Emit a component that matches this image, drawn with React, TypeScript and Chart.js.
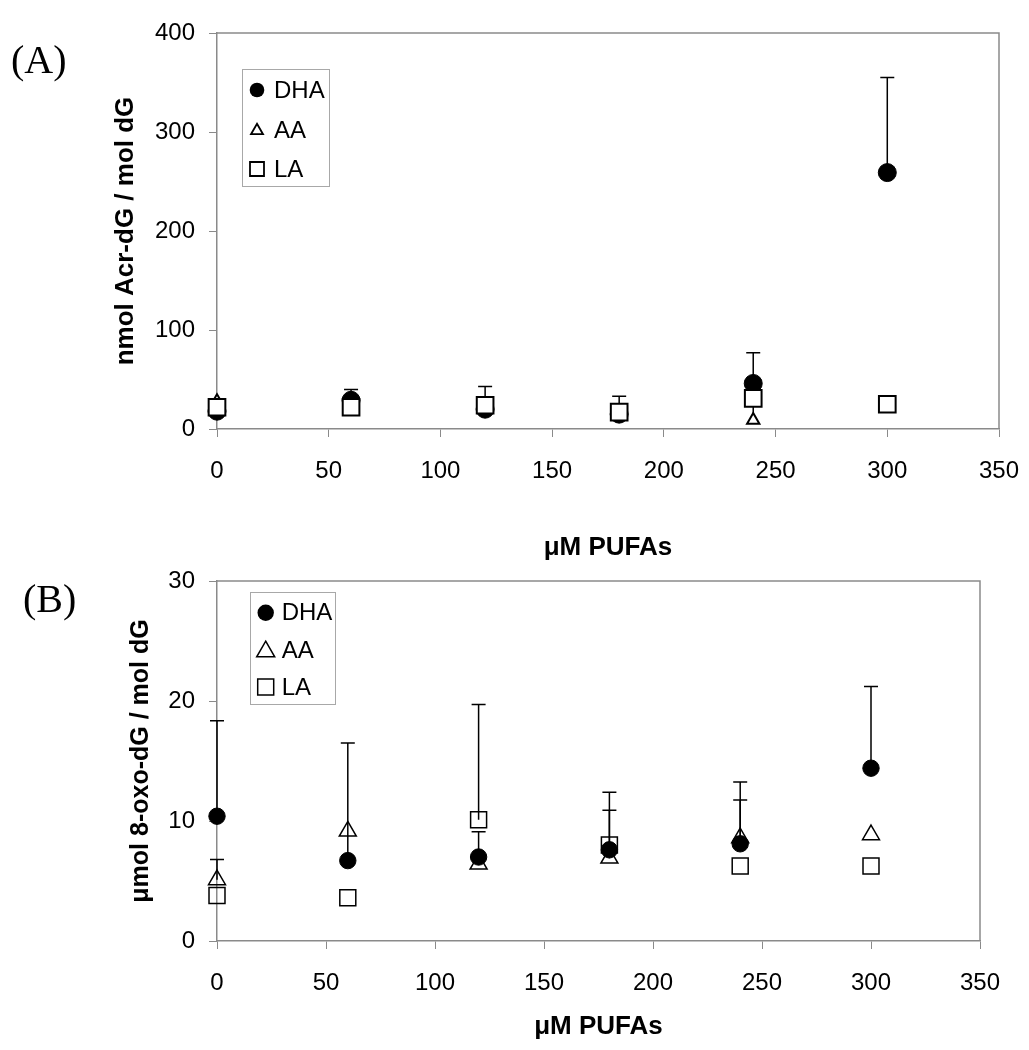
import React, { useEffect, useRef } from "react";
import { Chart, registerables } from "chart.js";

Chart.register(...registerables);

// ---------- data ----------
const doses = [0, 60, 120, 180, 240, 300];
const xTickValues = [0, 50, 100, 150, 200, 250, 300, 350];
const seriesNames = ["DHA", "AA", "LA"];

// Panel A: nmol Acr-dG / mol dG
const acrDHA = [18, 29, 20, 15, 46, 259];
const acrDHAErr = [0, 11, 0, 0, 31, 96];
const acrAA = [28, 22, 22, 16, 9, 24];
const acrAAErr = [0, 0, 0, 0, 21, 0];
const acrLA = [22, 22, 24, 17, 31, 25];
const acrLAErr = [0, 0, 19, 16, 0, 0];
const acrYTicks = [0, 100, 200, 300, 400];

// Panel B: umol 8-oxo-dG / mol dG
const oxoDHA = [10.4, 6.7, 7.0, 7.6, 8.1, 14.4];
const oxoDHAErr = [7.95, 9.8, 2.1, 4.8, 5.15, 6.8];
const oxoAA = [5.1, 9.15, 6.4, 6.9, 8.6, 8.85];
const oxoAAErr = [1.7, 0, 0, 4.0, 3.15, 0];
const oxoLA = [3.8, 3.6, 10.1, 8.0, 6.25, 6.25];
const oxoLAErr = [0, 0, 9.6, 0, 0, 0];
const oxoYTicks = [0, 10, 20, 30];

const SANS = "'Liberation Sans', Arial, Helvetica, sans-serif";
const AXIS_GRAY = "#8a8a8a";

// ---------- plugins ----------
const errorBarPlugin = {
  id: "errorBars",
  beforeDatasetsDraw(chart: any, _args: any, opts: any) {
    const { ctx } = chart;
    const xs = chart.scales.x;
    const ys = chart.scales.y;
    ctx.save();
    ctx.strokeStyle = "#000";
    ctx.lineWidth = opts.width || 1.5;
    chart.data.datasets.forEach((ds: any) => {
      const errs: number[] | undefined = ds.errorPlus;
      if (!errs) return;
      ds.data.forEach((pt: any, j: number) => {
        const e = errs[j];
        if (!e) return;
        const px = xs.getPixelForValue(pt.x);
        const p0 = ys.getPixelForValue(pt.y);
        const p1 = ys.getPixelForValue(pt.y + e);
        ctx.beginPath();
        ctx.moveTo(px, p0);
        ctx.lineTo(px, p1);
        ctx.moveTo(px - opts.cap, p1);
        ctx.lineTo(px + opts.cap, p1);
        ctx.stroke();
      });
    });
    ctx.restore();
  },
};

const framePlugin = {
  id: "frame",
  beforeDatasetsDraw(chart: any) {
    const { ctx, chartArea } = chart;
    ctx.save();
    ctx.strokeStyle = AXIS_GRAY;
    ctx.lineWidth = 1.5;
    ctx.beginPath();
    ctx.moveTo(chartArea.left, chartArea.top);
    ctx.lineTo(chartArea.right, chartArea.top);
    ctx.lineTo(chartArea.right, chartArea.bottom);
    ctx.stroke();
    ctx.restore();
  },
};

function drawSymbol(ctx: CanvasRenderingContext2D, kind: string, x: number, y: number, size: number, lw: number) {
  ctx.beginPath();
  if (kind === "circle") {
    ctx.arc(x, y, size, 0, Math.PI * 2);
    ctx.fillStyle = "#000";
    ctx.fill();
    return;
  }
  if (kind === "triangle") {
    const h = size * 0.866;
    ctx.moveTo(x, y - h / 2 - 1);
    ctx.lineTo(x + size / 2, y + h / 2 - 1);
    ctx.lineTo(x - size / 2, y + h / 2 - 1);
    ctx.closePath();
  } else {
    ctx.rect(x - size / 2, y - size / 2, size, size);
  }
  ctx.lineWidth = lw;
  ctx.strokeStyle = "#000";
  ctx.stroke();
}

const insideLegendPlugin = {
  id: "insideLegend",
  afterDraw(chart: any, _args: any, o: any) {
    const { ctx, chartArea } = chart;
    const bx = chartArea.left + o.dx;
    const by = chartArea.top + o.dy;
    ctx.save();
    ctx.strokeStyle = "#a8a8a8";
    ctx.lineWidth = 1;
    ctx.strokeRect(Math.round(bx) + 0.5, Math.round(by) + 0.5, o.w, o.h);
    ctx.font = `${o.fontSize}px ${SANS}`;
    ctx.fillStyle = "#000";
    ctx.textBaseline = "middle";
    ctx.textAlign = "left";
    const kinds = ["circle", "triangle", "square"];
    seriesNames.forEach((name, i) => {
      const cy = chartArea.top + o.rows[i];
      drawSymbol(ctx, kinds[i], chartArea.left + o.symX, cy, o.sizes[i], o.lw);
      ctx.fillStyle = "#000";
      ctx.fillText(name, chartArea.left + o.textX, cy + 1);
    });
    ctx.restore();
  },
};

// ---------- config ----------
type Panel = {
  canvasH: number;
  area: { left: number; top: number; right: number; bottom: number };
  yMax: number;
  yTicks: number[];
  yTitle: string;
  yTitleSize: number;
  yTitleX: number;
  xTitleY: number;
  dha: number[]; dhaErr: number[];
  aa: number[]; aaErr: number[];
  la: number[]; laErr: number[];
  radii: { circle: number; tri: number; rect: number };
  openFill: string;
  openBorder: number;
  legend: any;
};

function pts(vals: number[]) {
  return doses.map((d, i) => ({ x: d, y: vals[i] }));
}

function buildConfig(p: Panel): any {
  const W = 1029;
  const X_TITLE = 26;
  const xTitleFont = { family: SANS, size: X_TITLE, weight: "bold" as const, lineHeight: 1.2 };
  const yTitleFont = { family: SANS, size: p.yTitleSize, weight: "bold" as const, lineHeight: 1.2 };
  const xHalf = (X_TITLE * 1.2) / 2;
  const yHalf = (p.yTitleSize * 1.2) / 2;
  return {
    type: "scatter",
    data: {
      datasets: [
        {
          label: "DHA",
          data: pts(p.dha),
          errorPlus: p.dhaErr,
          pointStyle: "circle",
          pointRadius: p.radii.circle,
          pointBackgroundColor: "#000",
          pointBorderColor: "#000",
          pointBorderWidth: 1,
          clip: false,
          order: 2,
        },
        {
          label: "AA",
          data: pts(p.aa),
          errorPlus: p.aaErr,
          pointStyle: "triangle",
          pointRadius: p.radii.tri,
          pointBackgroundColor: p.openFill,
          pointBorderColor: "#000",
          pointBorderWidth: p.openBorder,
          clip: false,
          order: 1,
        },
        {
          label: "LA",
          data: pts(p.la),
          errorPlus: p.laErr,
          pointStyle: "rect",
          pointRadius: p.radii.rect,
          pointBackgroundColor: p.openFill,
          pointBorderColor: "#000",
          pointBorderWidth: p.openBorder,
          clip: false,
          order: 0,
        },
      ],
    },
    options: {
      animation: false,
      responsive: false,
      devicePixelRatio: 1,
      events: [],
      layout: {
        padding: { left: 0, top: p.area.top, right: W - p.area.right, bottom: 0 },
      },
      plugins: {
        legend: { display: false },
        tooltip: { enabled: false },
        title: { display: false },
        errorBars: { cap: 7, width: 1.5 },
        insideLegend: p.legend,
      },
      scales: {
        x: {
          type: "linear",
          min: 0,
          max: 350,
          afterBuildTicks: (s: any) => {
            s.ticks = xTickValues.map((v) => ({ value: v }));
          },
          afterFit: (s: any) => {
            s.height = p.canvasH - p.area.bottom;
            s.paddingLeft = 0;
            s.paddingRight = 0;
          },
          ticks: {
            font: { family: SANS, size: 24 },
            color: "#000",
            padding: 20,
            maxRotation: 0,
            autoSkip: false,
          },
          grid: { drawOnChartArea: false, drawTicks: true, tickLength: 8, color: AXIS_GRAY, lineWidth: 1 },
          border: { display: true, color: AXIS_GRAY, width: 1.5 },
          title: {
            display: true,
            text: "\u03bcM PUFAs",
            color: "#000",
            font: xTitleFont,
            padding: { top: 0, bottom: p.canvasH - p.xTitleY - xHalf },
          },
        },
        y: {
          type: "linear",
          min: 0,
          max: p.yMax,
          afterBuildTicks: (s: any) => {
            s.ticks = p.yTicks.map((v) => ({ value: v }));
          },
          afterFit: (s: any) => {
            s.width = p.area.left;
            s.paddingTop = 0;
            s.paddingBottom = 0;
          },
          ticks: {
            font: { family: SANS, size: 24 },
            color: "#000",
            padding: 14,
            autoSkip: false,
          },
          grid: { drawOnChartArea: false, drawTicks: true, tickLength: 8, color: AXIS_GRAY, lineWidth: 1 },
          border: { display: true, color: AXIS_GRAY, width: 1.5 },
          title: {
            display: true,
            text: p.yTitle,
            color: "#000",
            font: yTitleFont,
            padding: { top: p.yTitleX - yHalf, bottom: 0 },
          },
        },
      },
    },
    plugins: [framePlugin, errorBarPlugin, insideLegendPlugin],
  };
}

const panelA: Panel = {
  canvasH: 575,
  area: { left: 217, top: 33, right: 999, bottom: 429 },
  yMax: 400,
  yTicks: acrYTicks,
  yTitle: "nmol Acr-dG / mol dG",
  yTitleSize: 26,
  yTitleX: 126,
  xTitleY: 548,
  dha: acrDHA, dhaErr: acrDHAErr,
  aa: acrAA, aaErr: acrAAErr,
  la: acrLA, laErr: acrLAErr,
  radii: { circle: 9, tri: 7.1, rect: 11.8 },
  openFill: "#fff",
  openBorder: 2,
  legend: {
    dx: 25, dy: 36, w: 87, h: 117,
    rows: [57, 97, 136],
    symX: 40, textX: 57,
    sizes: [7.3, 12, 14],
    lw: 1.8,
    fontSize: 24,
  },
};

// canvas B starts at page y = 540
const B_TOP = 540;
const panelB: Panel = {
  canvasH: 510,
  area: { left: 217, top: 581 - B_TOP, right: 980, bottom: 941 - B_TOP },
  yMax: 30,
  yTicks: oxoYTicks,
  yTitle: "\u03bcmol 8-oxo-dG / mol dG",
  yTitleSize: 25,
  yTitleX: 141,
  xTitleY: 1027 - B_TOP,
  dha: oxoDHA, dhaErr: oxoDHAErr,
  aa: oxoAA, aaErr: oxoAAErr,
  la: oxoLA, laErr: oxoLAErr,
  radii: { circle: 8.2, tri: 9.8, rect: 11.3 },
  openFill: "rgba(0,0,0,0)",
  openBorder: 1.5,
  legend: {
    dx: 33, dy: 11, w: 85, h: 112,
    rows: [31.7, 69, 106],
    symX: 48.7, textX: 64.7,
    sizes: [8.2, 18, 16],
    lw: 1.5,
    fontSize: 24,
  },
};

function ChartCanvas({ panel, top }: { panel: Panel; top: number }) {
  const ref = useRef<HTMLCanvasElement | null>(null);
  useEffect(() => {
    if (!ref.current) return;
    const chart = new Chart(ref.current, buildConfig(panel));
    return () => chart.destroy();
  }, [panel]);
  return (
    <canvas
      ref={ref}
      width={1029}
      height={panel.canvasH}
      style={{ position: "absolute", left: 0, top, width: 1029, height: panel.canvasH, display: "block" }}
    />
  );
}

const panelLabelStyle: React.CSSProperties = {
  position: "absolute",
  fontFamily: "'Liberation Serif', 'Times New Roman', serif",
  fontSize: 40,
  lineHeight: "40px",
  color: "#000",
  whiteSpace: "nowrap",
};

export default function App() {
  return (
    <div style={{ position: "absolute", left: 0, top: 0, width: 1029, height: 1050, background: "#fff", overflow: "hidden" }}>
      <ChartCanvas panel={panelA} top={0} />
      <ChartCanvas panel={panelB} top={B_TOP} />
      <div style={{ ...panelLabelStyle, left: 11, top: 40 }}>(A)</div>
      <div style={{ ...panelLabelStyle, left: 23, top: 579 }}>(B)</div>
    </div>
  );
}
